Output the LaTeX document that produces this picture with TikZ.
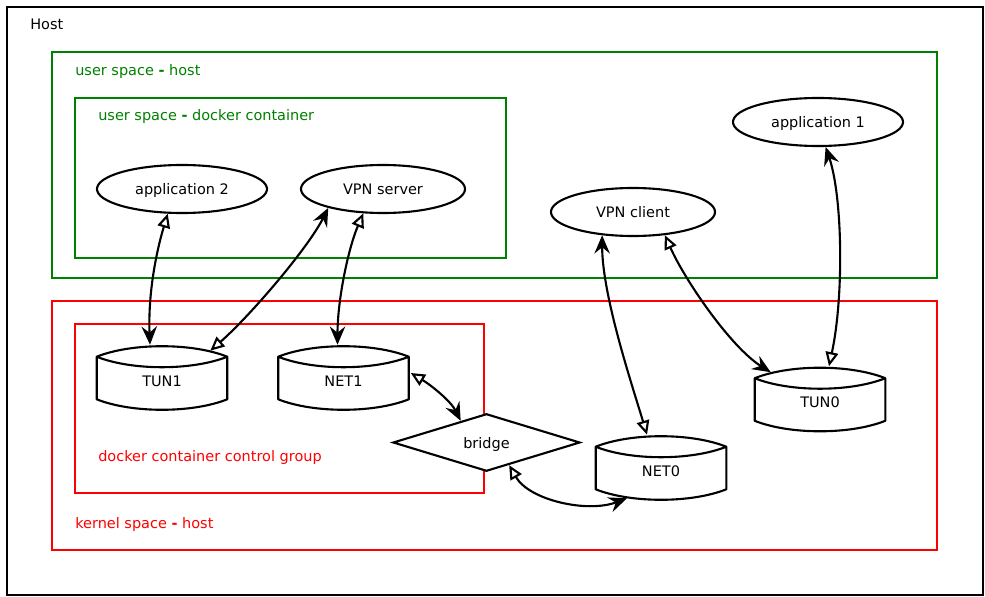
\documentclass[tikz,border=0pt]{standalone}
\usepackage{fontspec}
\setmainfont{DejaVu Sans}
\usetikzlibrary{shapes.geometric,arrows.meta}
\definecolor{usergreen}{RGB}{0,128,0}
\definecolor{kernelred}{RGB}{255,0,0}

\tikzset{
  frame/.style={line width=1.5pt},
  boxlabel/.style={anchor=west, inner sep=0pt, text depth=0pt},
  proc/.style={ellipse, draw, line width=1.5pt, minimum height=1.2cm, inner sep=0pt, text depth=0pt},
  disk/.style={rectangle, minimum width=3.25cm, minimum height=1.05cm, text height=12pt, text depth=0pt},
  bridgebox/.style={diamond, draw, fill=white, line width=1.5pt, minimum width=4.675cm, minimum height=1.375cm, inner sep=0pt, text depth=0pt},
  link/.style={line width=1.5pt, {Triangle[open,length=10pt,width=9pt]}-{Stealth[length=13pt,width=11pt,inset=4.5pt]}}
}

\begin{document}
\begin{tikzpicture}[x=0.025cm, y=-0.025cm, font=\fontsize{10.3}{12}\selectfont]
  \useasboundingbox (0,0) rectangle (985,597);

  % Frames
  \draw[frame, black] (7,7) rectangle (983,595);
  \node[boxlabel] (hostlbl) at (30,24) {Host};
  \draw[frame, usergreen] (52,52) rectangle (937,278);
  \node[boxlabel, text=usergreen] (userlbl) at (75,70) {user space \textbf{-} host};
  \draw[frame, usergreen] (75,98) rectangle (506,258);
  \node[boxlabel, text=usergreen] (dockerlbl) at (98,115) {user space \textbf{-} docker container};
  \draw[frame, kernelred] (52,301) rectangle (937,550);
  \node[boxlabel, text=kernelred] (kernellbl) at (75,523) {kernel space \textbf{-} host};
  \draw[frame, kernelred] (75,324) rectangle (484,493);
  \node[boxlabel, text=kernelred] (cgrouplbl) at (98,456) {docker container control group};

  % Processes
  \node[proc, minimum width=4.25cm] (app2) at (182,189) {application 2};
  \node[proc, minimum width=4.1cm] (VPNs) at (383,189) {VPN server};
  \node[proc, minimum width=4.1cm] (VPNc) at (633,212) {VPN client};
  \node[proc, minimum width=4.25cm] (app1) at (818,122) {application 1};

  % Interfaces
  \node[disk] (TUN1) at (162,378) {TUN1};
  \node[disk] (NET1) at (343.5,378) {NET1};
  \node[disk] (NET0) at (661,468) {NET0};
  \node[disk] (TUN0) at (820,399.5) {TUN0};
  \foreach \n in {TUN1,NET1,NET0,TUN0}
    \draw[line width=1.5pt, line join=round]
      (\n.north west) .. controls +(35,-14) and +(-35,-14) .. (\n.north east)
      .. controls +(-35,14) and +(35,14) .. (\n.north west)
      -- (\n.south west) .. controls +(35,14) and +(-35,14) .. (\n.south east)
      -- (\n.north east);
  \node[bridgebox] (bridge) at (486.5,442.5) {bridge};

  % Links
  \draw[link] (app2.240) .. controls +(-12,40) and +(-2,-50) .. ([shift={(-12,-12)}]TUN1.north);
  \draw[link] ([shift={(-17,-6)}]TUN1.north east) .. controls +(40,-35) and +(-20,40) .. (VPNs.199);
  \draw[link] (VPNs.231) .. controls +(-15,35) and +(0,-45) .. ([shift={(-6,-12)}]NET1.north);
  \draw[link] ([shift={(2,-5)}]NET1.east) .. controls +(20,12) and +(-10,-20) .. (bridge.140);
  \draw[link] (bridge.315) .. controls +(20,35) and +(-40,15) .. ([shift={(-34,9)}]NET0.south);
  \draw[link] ([shift={(-14,-12)}]NET0.north) .. controls +(-15,-50) and +(0,60) .. (VPNc.217);
  \draw[link] (VPNc.324) .. controls +(20,45) and +(-40,-25) .. ([shift={(16,-6)}]TUN0.north west);
  \draw[link] ([shift={(9,-12)}]TUN0.north) .. controls +(15,-70) and +(17,50) .. (app1.287);
\end{tikzpicture}
\end{document}
